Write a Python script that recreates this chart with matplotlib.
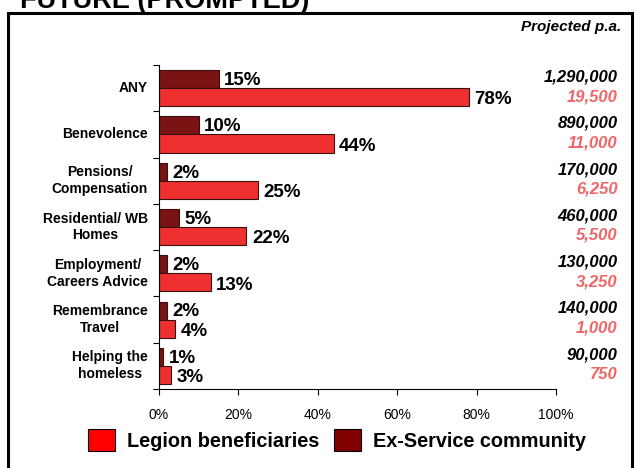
import numpy as np
import matplotlib.pyplot as plt
from matplotlib.patches import Rectangle, Patch

plt.rcParams['font.family'] = ['Liberation Sans', 'DejaVu Sans']

categories = ["ANY", "Benevolence", "Pensions/\nCompensation", "Residential/ WB\nHomes",
              "Employment/\nCareers Advice", "Remembrance\nTravel", "Helping the\nhomeless"]
legion = [78, 44, 25, 22, 13, 4, 3]
ex_service = [15, 10, 2, 5, 2, 2, 1]
proj_ex_service = ["1,290,000", "890,000", "170,000", "460,000", "130,000", "140,000", "90,000"]
proj_legion = ["19,500", "11,000", "6,250", "5,500", "3,250", "1,000", "750"]

red = "#EE3030"
dark = "#7A1414"
pink = "#F06565"

fig = plt.figure(figsize=(6.35, 4.68), dpi=100)
ax = fig.add_axes([0.2504, 0.1688, 0.6252, 0.6922])

y = np.arange(len(categories))
h = 0.39
ax.barh(y - h / 2, ex_service, height=h, color=dark, edgecolor="#3a1010", linewidth=0.8)
ax.barh(y + h / 2, legion, height=h, color=red, edgecolor="#3a1010", linewidth=0.8)

for i in range(len(categories)):
    ax.annotate(f"{ex_service[i]}%", (ex_service[i], y[i] - h / 2), xytext=(4, -1),
                textcoords="offset points", va="center", ha="left",
                fontsize=13.5, fontweight="bold")
    ax.annotate(f"{legion[i]}%", (legion[i], y[i] + h / 2), xytext=(4, -2),
                textcoords="offset points", va="center", ha="left",
                fontsize=13.5, fontweight="bold")
    ax.text(-0.028, y[i], categories[i], transform=ax.get_yaxis_transform(),
            ha="right", va="center", multialignment="center",
            fontsize=10, fontweight="bold", linespacing=1.25)
    ax.text(1.155, y[i] - 0.24, proj_ex_service[i], transform=ax.get_yaxis_transform(),
            ha="right", va="center", fontsize=12, fontweight="bold", fontstyle="italic")
    ax.text(1.155, y[i] + 0.18, proj_legion[i], transform=ax.get_yaxis_transform(),
            ha="right", va="center", fontsize=12, fontweight="bold", fontstyle="italic",
            color=pink)

ax.set_xlim(0, 100)
ax.set_ylim(len(categories) - 0.5, -0.5)
ax.set_xticks(np.arange(0, 101, 20))
ax.set_xticklabels([f"{v}%" for v in range(0, 101, 20)], fontsize=10)
ax.set_yticks(np.arange(-0.5, len(categories), 1))
ax.set_yticklabels([])
ax.tick_params(axis="x", length=4, pad=10)
ax.tick_params(axis="y", length=4)
ax.spines["top"].set_visible(False)
ax.spines["right"].set_visible(False)

fig.text(621 / 635, 1 - 27 / 468, "Projected p.a.", ha="right", va="center",
         fontsize=11, fontweight="bold", fontstyle="italic")
fig.text(20 / 635, 1 - 8 / 468, "FUTURE (PROMPTED)", ha="left", va="baseline",
         fontsize=19.5, fontweight="bold")

# outer frame, open at the bottom
fig.add_artist(Rectangle((8 / 635, -0.05), 624 / 635, 1.05 - 13 / 468,
                         transform=fig.transFigure, fill=False, linewidth=2.2,
                         edgecolor="black"))

handles = [Patch(facecolor="#FF0000", edgecolor="black", linewidth=0.8),
           Patch(facecolor="#800000", edgecolor="black", linewidth=0.8)]
fig.legend(handles, ["Legion beneficiaries", "Ex-Service community"], loc="center",
           bbox_to_anchor=(0.531, 0.06), ncol=2, frameon=False,
           prop={"size": 14.3, "weight": "bold"}, handlelength=1.35, handleheight=1.35,
           handletextpad=0.6, columnspacing=0.75)

fig.savefig("out.png", dpi=100)
